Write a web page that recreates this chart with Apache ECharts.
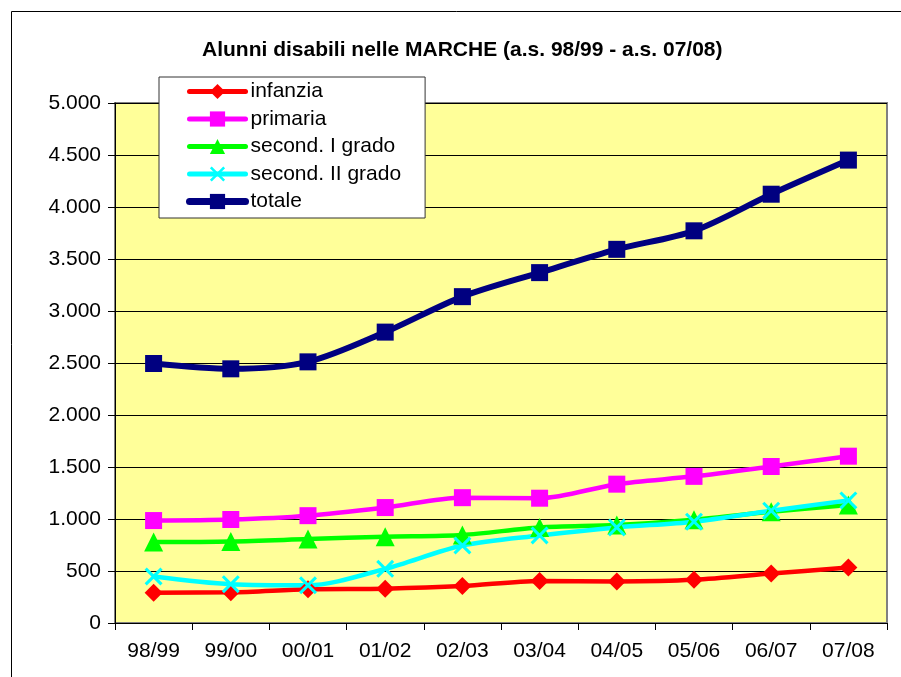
<!DOCTYPE html>
<html>
<head>
<meta charset="utf-8">
<script src="https://cdn.jsdelivr.net/npm/echarts@6/dist/echarts.min.js"></script>
<style>
  html, body { margin: 0; padding: 0; background: #fff; }
  #main { width: 901px; height: 677px; }
</style>
</head>
<body>
<div id="main"></div>
<script>
// anni scolastici
const anni = ['98/99', '99/00', '00/01', '01/02', '02/03', '03/04', '04/05', '05/06', '06/07', '07/08']
// valori
const infanzia = [292, 295, 325, 330, 355, 405, 400, 415, 475, 533]
const primaria = [985, 995, 1032, 1110, 1205, 1200, 1335, 1410, 1505, 1604]
const secondI = [778, 784, 807, 830, 847, 919, 942, 993, 1070, 1135]
const secondII = [447, 373, 363, 521, 745, 842, 919, 974, 1080, 1179]
const totale = [2495, 2444, 2511, 2797, 3138, 3369, 3593, 3771, 4123, 4451]

const font = 'Liberation Sans, Arial, sans-serif'
const xPath = 'path://M0,1.2 L1.2,0 L5,3.8 L8.8,0 L10,1.2 L6.2,5 L10,8.8 L8.8,10 L5,6.2 L1.2,10 L0,8.8 L3.8,5 Z'

function serie(name, data, color, symbol, size, width) {
    return {
        name: name,
        type: 'line',
        data: data,
        smooth: 0.3,
        symbol: symbol,
        symbolSize: size,
        lineStyle: { color: color, width: width },
        itemStyle: { color: color },
        emphasis: { disabled: true }
    }
}

const chart = echarts.init(document.getElementById('main'))
const option = {
    animation: false,
    textStyle: { fontFamily: font },
    title: {
        text: 'Alunni disabili nelle MARCHE (a.s. 98/99 - a.s. 07/08)',
        left: 197,
        top: 35,
        textStyle: { fontSize: 21, fontWeight: 'bold', color: '#000', fontFamily: font }
    },
    graphic: [{
        type: 'rect',
        shape: { x: 11.5, y: 11.5, width: 900, height: 700 },
        style: { fill: 'none', stroke: '#000', lineWidth: 1 },
        silent: true
    }],
    legend: {
        orient: 'vertical',
        left: 159,
        top: 77,
        z: 10,
        backgroundColor: '#fff',
        borderColor: '#333',
        borderWidth: 1,
        padding: [4, 24, 6, 27],
        itemWidth: 56,
        itemHeight: 19,
        itemGap: 6.5,
        lineStyle: { width: 5, cap: 'round' },
        textStyle: { fontSize: 21, color: '#000', fontFamily: font },
        data: [
            { name: 'infanzia' },
            { name: 'primaria' },
            { name: 'second. I grado' },
            { name: 'second. II grado' },
            { name: 'totale', lineStyle: { width: 7, cap: 'round' } }
        ]
    },
    grid: {
        left: 115,
        right: 14,
        top: 103,
        bottom: 54,
        show: true,
        backgroundColor: '#FFFF99',
        borderColor: '#808080',
        borderWidth: 2
    },
    xAxis: {
        type: 'category',
        data: anni,
        boundaryGap: true,
        axisLine: { lineStyle: { color: '#000', width: 1 } },
        axisTick: { show: true, length: 7, lineStyle: { color: '#000' } },
        axisLabel: { fontSize: 21, color: '#000', margin: 18, fontFamily: font }
    },
    yAxis: {
        type: 'value',
        min: 0,
        max: 5000,
        interval: 500,
        axisLine: { show: true, lineStyle: { color: '#000', width: 1 } },
        axisTick: { show: true, length: 7, lineStyle: { color: '#000' } },
        splitLine: { show: true, lineStyle: { color: '#000', width: 1 } },
        axisLabel: {
            fontSize: 21,
            color: '#000',
            margin: 14,
            fontFamily: font,
            formatter: function (v) {
                return String(v).replace(/\B(?=(\d{3})+(?!\d))/g, '.')
            }
        }
    },
    series: [
        serie('infanzia', infanzia, '#FF0000', 'diamond', 18, 4.5),
        serie('primaria', primaria, '#FF00FF', 'rect', 17, 4.5),
        serie('second. I grado', secondI, '#00FF00', 'triangle', 19, 4.5),
        serie('second. II grado', secondII, '#00FFFF', xPath, 18, 4.5),
        serie('totale', totale, '#000080', 'rect', 17, 6)
    ]
}
chart.setOption(option)
</script>
</body>
</html>
